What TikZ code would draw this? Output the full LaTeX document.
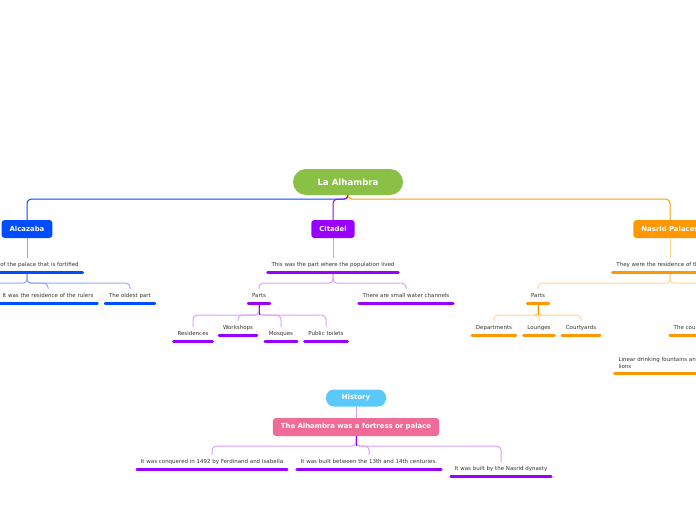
\documentclass[tikz,border=0pt]{standalone}
\usepackage{fontspec}
\setmainfont{DejaVu Sans}
\usepackage{tikz}
\definecolor{alhgreen}{RGB}{139,192,70}
\definecolor{alcblue}{RGB}{0,76,255}
\definecolor{alcbluel}{RGB}{143,168,255}
\definecolor{citpurple}{RGB}{153,0,255}
\definecolor{citpurplel}{RGB}{218,160,255}
\definecolor{nasorange}{RGB}{255,152,0}
\definecolor{nasorangel}{RGB}{255,212,150}
\definecolor{histcyan}{RGB}{90,200,250}
\definecolor{histpink}{RGB}{240,108,150}
\definecolor{leaftext}{RGB}{51,51,51}
\tikzset{topic/.style={fill=#1, text=white, font=\fontsize{6.9}{8}\selectfont\bfseries, rounded corners=3pt, minimum height=18pt, inner xsep=8pt}}
\tikzset{leaf/.style={text=leaftext, font=\fontsize{5.5}{7}\selectfont, inner xsep=3.8pt, inner ysep=4.45pt, text height=4pt, text depth=1.1pt}}
\tikzset{uline/.style={line width=2.6pt, line cap=round}}
\tikzset{link/.style={line width=1pt, rounded corners=4pt}}

\begin{document}
\begin{tikzpicture}[x=1pt, y=-1pt]
            \useasboundingbox (0, 0) rectangle (696, 520);
            % centre
            \node[fill=alhgreen, text=white, font=\fontsize{8.6}{10}\selectfont\bfseries, rounded corners=13pt, minimum width=110pt, minimum height=26pt] (main) at (348, 182) {La Alhambra};
            \node[topic=alcblue] (alc) at (27, 229) {Alcazaba};
            \node[topic=citpurple] (cit) at (333, 229) {Citadel};
            \node[topic=nasorange] (nas) at (670, 229) {Nasrid Palaces};
            \draw[link, alcblue] (main.south) -- ++(0, 4) -| (alc.north);
            \draw[link, citpurple] (main.south) -- ++(0, 4) -| (cit.north);
            \draw[link, nasorange] (main.south) -- ++(0, 4) -| (nas.north);
            % Alcazaba
            \node[leaf] (fort) at (27, 265) {The part of the palace that is fortified};
            \node[leaf] (resid) at (48, 296) {It was the residence of the rulers};
            \node[leaf] (oldest) at (130, 296) {The oldest part};
            \coordinate (alcoff) at (-30, 290);
            \draw[link, alcbluel] (alc.south) -- (fort.north);
            \draw[link, alcbluel] (fort.south) -- ++(0, 11) -| (resid.north);
            \draw[link, alcbluel] (fort.south) -- ++(0, 11) -| (oldest.north);
            \draw[link, alcbluel] (fort.south) -- ++(0, 11) -| (alcoff);
            % Citadel
            \node[leaf] (popl) at (333, 265) {This was the part where the population lived};
            \node[leaf] (parts1) at (259, 296) {Parts};
            \node[leaf] (water) at (406, 296) {There are small water channels};
            \node[leaf] (res) at (193, 334) {Residences};
            \node[leaf] (work) at (238, 328) {Workshops};
            \node[leaf] (mosq) at (281, 334) {Mosques};
            \node[leaf] (toil) at (326, 334) {Public toilets};
            \draw[link, citpurplel] (cit.south) -- (popl.north);
            \draw[link, citpurplel] (popl.south) -- ++(0, 11) -| (parts1.north);
            \draw[link, citpurplel] (popl.south) -- ++(0, 11) -| (water.north);
            \foreach \n in {res, work, mosq, toil}
                \draw[link, citpurplel] (parts1.south) -- ++(0, 12) -| (\n.north);
            \draw[link, citpurple] (parts1.south) -- ++(0, 12);
            % Nasrid Palaces
            \node[leaf] (they) at (670, 265) {They were the residence of the sultans};
            \node[leaf] (parts2) at (538, 296) {Parts};
            \node[leaf] (dep) at (494, 328) {Departments};
            \node[leaf] (lou) at (539, 328) {Lounges};
            \node[leaf] (cour) at (581, 328) {Courtyards};
            \node[leaf] (court) at (703, 328) {The court of the lions};
            \node[leaf, align=left, anchor=west, text height={}, text depth={}] (lin) at (614.5, 363) {Linear drinking fountains and a fountain surrounded by twelve\\lions};
            \draw[link, nasorangel] (nas.south) -- (they.north);
            \draw[link, nasorangel] (they.south) -- ++(0, 11) -| (parts2.north);
            \draw[link, nasorangel] (they.south) -- ++(0, 11) -| (court.north);
            \foreach \n in {dep, lou, cour}
                \draw[link, nasorangel] (parts2.south) -- ++(0, 12) -| (\n.north);
            \draw[link, nasorange] (parts2.south) -- ++(0, 12);
            \draw[link, nasorangel] (court.south) -- ++(0, 8) -| (lin.north);
            % History
            \node[fill=histcyan, text=white, font=\fontsize{6.9}{8}\selectfont\bfseries, rounded corners=8pt, minimum width=60pt, minimum height=17pt] (hist) at (356, 398) {History};
            \node[topic=histpink] (fortr) at (356, 427) {The Alhambra was a fortress or palace};
            \node[leaf] (conq) at (212, 462) {It was conquered in 1492 by Ferdinand and Isabella};
            \node[leaf] (cent) at (369, 462) {It was built between the 13th and 14th centuries.};
            \node[leaf] (nasr) at (501, 469) {It was built by the Nasrid dynasty};
            \draw[link, citpurplel] (hist.south) -- (fortr.north);
            \foreach \n in {conq, cent, nasr}
                \draw[link, citpurplel] (fortr.south) -- ++(0, 10) -| (\n.north);
            \draw[link, citpurple] (fortr.south) -- ++(0, 10);
            % underlines
            \foreach \n in {fort, resid, oldest}
                \draw[uline, alcblue] (\n.south west) -- (\n.south east);
            \foreach \n in {popl, parts1, water, res, work, mosq, toil, conq, cent, nasr}
                \draw[uline, citpurple] (\n.south west) -- (\n.south east);
            \foreach \n in {they, parts2, dep, lou, cour, court, lin}
                \draw[uline, nasorange] (\n.south west) -- (\n.south east);
        \end{tikzpicture}
\end{document}
